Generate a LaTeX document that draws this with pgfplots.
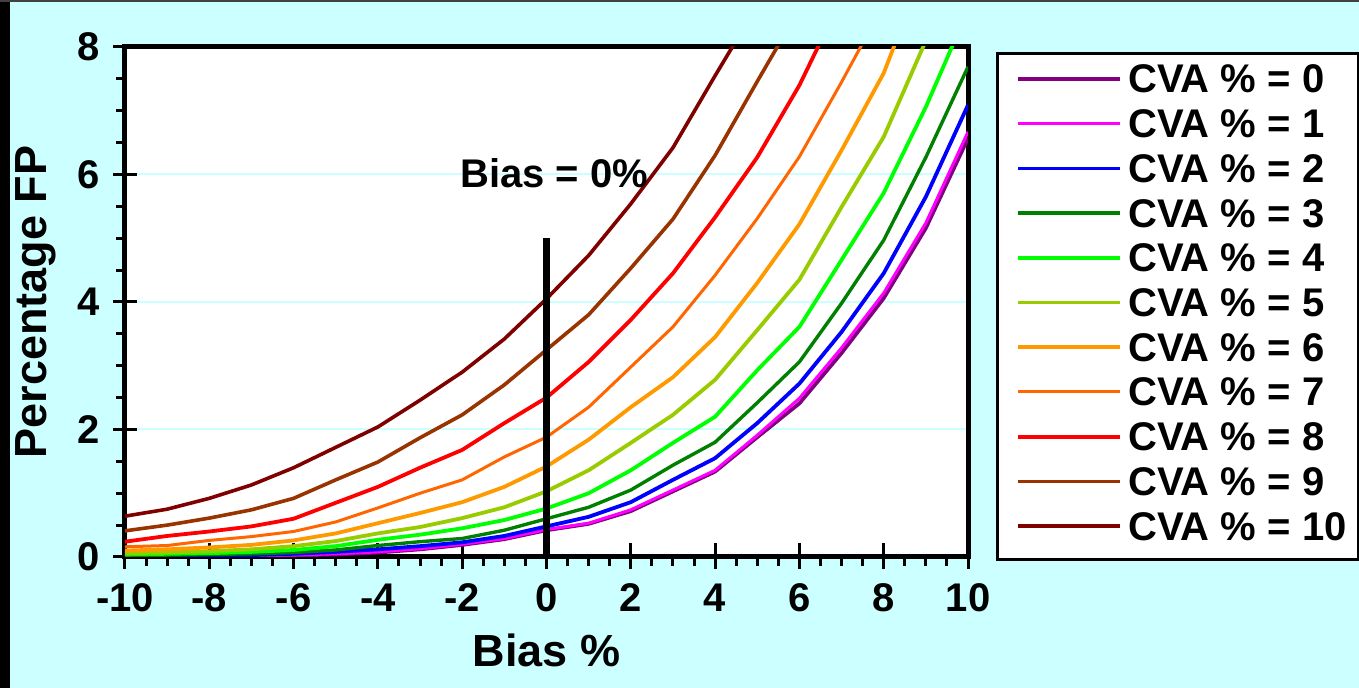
\documentclass[border=0pt]{standalone}
\usepackage{fontspec}
\setmainfont{Liberation Sans}
\usepackage{pgfplots}
\usepackage{pgfplotstable}
\pgfplotsset{compat=1.18}

\definecolor{bgc}{HTML}{CCFFFF}
\definecolor{c0}{HTML}{800080}
\definecolor{c1}{HTML}{FF00FF}
\definecolor{c2}{HTML}{0000FF}
\definecolor{c3}{HTML}{008000}
\definecolor{c4}{HTML}{00FF00}
\definecolor{c5}{HTML}{99CC00}
\definecolor{c6}{HTML}{FF9900}
\definecolor{c7}{HTML}{FF6600}
\definecolor{c8}{HTML}{FF0000}
\definecolor{c9}{HTML}{993300}
\definecolor{c10}{HTML}{800000}

\pgfplotsset{
  layers/fp layers/.define layer set={
    axis background,axis grid,main,axis ticks,axis lines,
    axis tick labels,axis descriptions,axis foreground}{},
}

% percentage FP against bias, one column per CVA %
\pgfplotstableread{
x    c0    c1    c2    c3    c4    c5    c6    c7    c8    c9    c10
-10  0.003 0.005 0.010 0.02  0.04  0.06  0.10  0.16  0.24  0.41  0.64
-9   0.006 0.010 0.015 0.03  0.05  0.07  0.12  0.18  0.33  0.50  0.75
-8   0.010 0.015 0.020 0.04  0.06  0.09  0.15  0.26  0.40  0.61  0.92
-7   0.015 0.020 0.030 0.05  0.08  0.12  0.19  0.32  0.48  0.74  1.13
-6   0.025 0.030 0.050 0.07  0.11  0.17  0.26  0.40  0.60  0.92  1.40
-5   0.04  0.05  0.08  0.11  0.17  0.25  0.37  0.55  0.85  1.21  1.72
-4   0.07  0.08  0.12  0.18  0.27  0.37  0.53  0.77  1.10  1.49  2.04
-3   0.12  0.13  0.17  0.24  0.35  0.47  0.69  1.00  1.40  1.87  2.46
-2   0.19  0.20  0.23  0.29  0.45  0.61  0.86  1.21  1.68  2.23  2.90
-1   0.28  0.29  0.33  0.42  0.58  0.78  1.10  1.57  2.10  2.70  3.42
0    0.42  0.43  0.48  0.60  0.76  1.03  1.42  1.88  2.50  3.25  4.05
1    0.52  0.53  0.63  0.78  1.00  1.36  1.84  2.35  3.06  3.80  4.73
2    0.72  0.74  0.86  1.05  1.36  1.79  2.35  2.98  3.72  4.53  5.54
3    1.03  1.05  1.21  1.44  1.79  2.23  2.82  3.61  4.45  5.30  6.42
4    1.34  1.36  1.55  1.80  2.20  2.78  3.45  4.42  5.33  6.30  7.55
5    1.88  1.91  2.10  2.42  2.93  3.56  4.30  5.31  6.27  7.46  8.65
6    2.41  2.49  2.72  3.06  3.61  4.35  5.22  6.28  7.40  8.60  nan
7    3.20  3.28  3.53  3.98  4.66  5.49  6.38  7.45  8.76  nan   nan
8    4.06  4.14  4.45  4.97  5.71  6.59  7.59  8.67  nan   nan   nan
9    5.16  5.24  5.65  6.27  7.06  8.10  9.30  nan   nan   nan   nan
10   6.57  6.67  7.09  7.69  8.58  nan   nan   nan   nan   nan   nan
}\fpdata

\begin{document}
\begin{tikzpicture}
\fill[bgc] (-62.5pt,-65.5pt) rectangle (617pt,278.5pt);
\fill[black] (-62.5pt,-65.5pt) rectangle (-57.5pt,278.5pt);
\draw[black!75, line width=1pt] (-62.5pt,278pt) -- (617pt,278pt);
\begin{axis}[
  set layers=fp layers,
  at={(0pt,0pt)}, anchor=south west,
  scale only axis, width=421.5pt, height=255pt,
  xmin=-10, xmax=10, ymin=0, ymax=8,
  xtick={-10,-8,...,10}, ytick={0,2,...,8},
  minor x tick num=3, minor y tick num=3,
  tick pos=left, tick align=outside,
  major tick length=6pt, minor tick length=4.5pt,
  every tick/.style={black, line width=1.5pt},
  extra x ticks={-8,-6,...,8}, extra x tick labels={},
  extra x tick style={tick align=inside, major tick length=7pt},
  extra y ticks={2,4,6}, extra y tick labels={},
  extra y tick style={tick align=inside, major tick length=6pt, grid=none},
  axis line style={line width=2.5pt},
  axis background/.style={fill=white},
  ymajorgrids, major grid style={bgc, line width=1pt},
  /pgf/number format/assume math mode=true,
  tick label style={font=\fontsize{20}{20}\selectfont\bfseries},
  xticklabel style={yshift=-4pt},
  yticklabel style={xshift=-3pt},
  xlabel={Bias \%}, ylabel={Percentage FP},
  label style={font=\fontsize{22.5}{22.5}\selectfont\bfseries},
  x label style={at={(axis description cs:0.5,-0.184)}, anchor=center},
  y label style={at={(axis description cs:-0.1056,0.5)}, anchor=center},
  legend style={at={(axis description cs:1.0332,0.990)}, anchor=north west,
    draw=black, line width=1.5pt, fill=white,
    inner xsep=9.5pt, inner ysep=5.7pt, row sep=4.35pt, column sep=3pt,
    font=\fontsize{20}{20}\selectfont\bfseries,
    nodes={inner sep=0pt, text height=14pt, text depth=4pt}},
  legend cell align=left,
  legend image code/.code={\draw[#1] (0pt,2pt) -- (51pt,2pt);},
]
\addplot[c0, line width=1.9pt] table[x=x, y=c0] {\fpdata};
\addplot[c1, line width=1.5pt] table[x=x, y=c1] {\fpdata};
\addplot[c2, line width=1.9pt] table[x=x, y=c2] {\fpdata};
\addplot[c3, line width=1.7pt] table[x=x, y=c3] {\fpdata};
\addplot[c4, line width=1.9pt] table[x=x, y=c4] {\fpdata};
\addplot[c5, line width=1.9pt] table[x=x, y=c5] {\fpdata};
\addplot[c6, line width=1.9pt] table[x=x, y=c6] {\fpdata};
\addplot[c7, line width=1.5pt] table[x=x, y=c7] {\fpdata};
\addplot[c8, line width=1.9pt] table[x=x, y=c8] {\fpdata};
\addplot[c9, line width=1.8pt] table[x=x, y=c9] {\fpdata};
\addplot[c10, line width=1.8pt] table[x=x, y=c10] {\fpdata};
\addplot[black, line width=3.5pt, forget plot] coordinates {(0,0) (0,5)};
\node[font=\fontsize{20}{20}\selectfont\bfseries] at (axis cs:0.18,6.02) {Bias = 0\%};
\legend{\makebox[105.5pt][l]{CVA \% = 0}, \makebox[105.5pt][l]{CVA \% = 1},
  \makebox[105.5pt][l]{CVA \% = 2}, \makebox[105.5pt][l]{CVA \% = 3},
  \makebox[105.5pt][l]{CVA \% = 4}, \makebox[105.5pt][l]{CVA \% = 5},
  \makebox[105.5pt][l]{CVA \% = 6}, \makebox[105.5pt][l]{CVA \% = 7},
  \makebox[105.5pt][l]{CVA \% = 8}, \makebox[105.5pt][l]{CVA \% = 9},
  \makebox[105.5pt][l]{CVA \% = 10}}
\end{axis}
\pgfresetboundingbox
\path[use as bounding box] (-62.5pt,-65.5pt) rectangle (617pt,278.5pt);
\end{tikzpicture}
\end{document}
